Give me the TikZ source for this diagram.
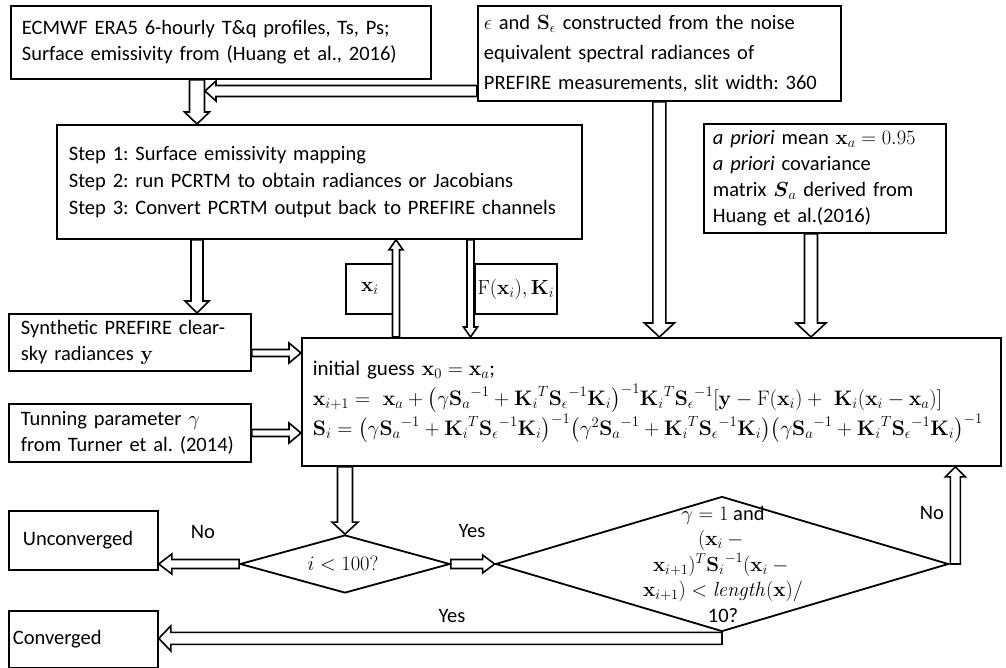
\RequirePackage{fix-cm}
\documentclass[tikz,border=0pt]{standalone}
\usepackage{amsmath}
\usepackage[no-math]{fontspec}
\setmainfont{Carlito}
\usetikzlibrary{calc,shapes.geometric}

\newcommand\mx{\mathbf{x}}
\newcommand\mS{\mathbf{S}}
\newcommand\mK{\mathbf{K}}
\newcommand\Sai{{\mS_a}^{-1}}
\newcommand\Sei{{\mS_\epsilon}^{-1}}
\newcommand\KiT{{\mK_i}^{T}}

\begin{document}
\frenchspacing
\begin{tikzpicture}[x=1pt, y=-1pt,
  every node/.style={font=\fontsize{20.5}{26}\selectfont},
  box/.style={draw, line width=1.8pt, anchor=north west, inner ysep=0pt, align=left},
  diam/.style={diamond, draw, line width=1.8pt, inner sep=0pt},
  bar/.style={draw, fill=white, line width=1.6pt, line join=miter},
  % hollow block arrow: {half shaft width}{half head width}{head length}
  barrow/.style n args={3}{to path={
    ($(\tikztotarget)!#3pt!(\tikztostart)$) coordinate (bab)
    ($(\tikztostart)!#1pt!90:(\tikztotarget)$)
    -- ($(bab)!#1pt!90:(\tikztotarget)$)
    -- ($(bab)!#2pt!90:(\tikztotarget)$)
    -- (\tikztotarget)
    -- ($(bab)!#2pt!-90:(\tikztotarget)$)
    -- ($(bab)!#1pt!-90:(\tikztotarget)$)
    -- ($(\tikztostart)!#1pt!-90:(\tikztotarget)$)
    -- cycle}},
  lbl/.style={inner sep=0pt}]
\useasboundingbox (0,0) rectangle (1006,668);

% input boxes
\node[box, minimum width=420, minimum height=73, text width=398, inner xsep=11] (src) at (10,5)
  {ECMWF ERA5 6-hourly T\&q profiles, Ts, Ps;\\Surface emissivity from (Huang et al., 2016)};
\node[box, minimum width=363, minimum height=95, text width=351, inner xsep=6,
  font=\fontsize{20.5}{30}\selectfont] (noise) at (477,5)
  {$\epsilon$ and $\mS_\epsilon$ constructed from the noise\\equivalent spectral radiances of\\PREFIRE measurements, slit width: 360};
\node[box, minimum width=525, minimum height=114, text width=501, inner xsep=12,
  font=\fontsize{20.5}{27}\selectfont] (step) at (56,124)
  {Step 1: Surface emissivity mapping\\Step 2: run PCRTM to obtain radiances or Jacobians\\Step 3: Convert PCRTM output back to PREFIRE channels};
\node[box, minimum width=242, minimum height=109, text width=224, inner xsep=9] (prior) at (703,123)
  {\textit{a priori} mean $\mx_a = 0.95$\\\textit{a priori} covariance\\matrix $\boldsymbol{S}_a$ derived from\\Huang et al.(2016)};
\node[box, minimum width=48, minimum height=50, inner xsep=0, align=center] (xi) at (345,263) {$\mx_i$};
\node[box, minimum width=82, minimum height=50, inner xsep=0, align=center] (fk) at (474,263) {$\mathrm{F}(\mx_i), \mK_i$};
\node[box, minimum width=242, minimum height=57, text width=218, inner xsep=12] (syn) at (8,313)
  {Synthetic PREFIRE clear-\\sky radiances $\mathbf{y}$};
\node[box, minimum width=242, minimum height=58, text width=218, inner xsep=12] (tun) at (8,403)
  {Tunning parameter $\gamma$\\from Turner et al. (2014)};

% retrieval step
\node[box, minimum width=699, minimum height=128, text width=677, inner xsep=11,
  font=\fontsize{21}{30}\selectfont] (eq) at (301,337)
  {initial guess $\mx_0 = \mx_a$;\\
   $\mx_{i+1} = \ \mx_a + \bigl(\gamma\Sai + \KiT\Sei\mK_i\bigr)^{-1}\KiT\Sei[\mathbf{y} - \mathrm{F}(\mx_i) +\ \mK_i(\mx_i - \mx_a)]$\\
   $\mS_i = \bigl(\gamma\Sai + \KiT\Sei\mK_i\bigr)^{-1}\bigl(\gamma^2\Sai + \KiT\Sei\mK_i\bigr)\bigl(\gamma\Sai + \KiT\Sei\mK_i\bigr)^{-1}$};

% outcomes
\node[box, minimum width=149, minimum height=59, text width=121, inner xsep=14] (unc) at (8,510) {Unconverged};
\node[box, minimum width=149, minimum height=57, text width=141, inner xsep=4] (conv) at (8,610) {Converged};

% decisions
\node[diam, minimum width=210, minimum height=58] (d1) at (345,564) {};
\node (d1t) at (343,564) {$i < 100?$};
\node[diam, minimum width=453, minimum height=135] (d2) at (722,564) {};
\node[align=center, font=\fontsize{20.5}{25.5}\selectfont] (d2t) at (723,564)
  {$\gamma = 1$ and\\$(\mx_i -{}$\\$\mx_{i+1})^T{\mS_i}^{-1}(\mx_i -{}$\\$\mx_{i+1}) < \mathit{length}(\mx)/$\\10?};

% branch labels
\node[lbl] (l1) at (203,532) {No};
\node[lbl] (l2) at (472,531) {Yes};
\node[lbl] (l3) at (452,616) {Yes};
\node[lbl] (l4) at (932,513) {No};

% arrow columns and rows
\coordinate (cA) at (197,0);
\coordinate (cB) at (396,0);
\coordinate (cC) at (470.5,0);
\coordinate (cE) at (811,0);
\coordinate (j1) at (205,91);
\coordinate (r8) at (0,353);
\coordinate (r9) at (0,433);
\coordinate (nst) at ([xshift=6pt]d2.east);
\coordinate (yst) at ([yshift=-6pt]d2.south);

% connectors
\draw[bar] (src.south -| cA) to[barrow={7.5}{12.5}{12}] (step.north -| cA);
\draw[bar] (noise.west |- j1) to[barrow={5.5}{10}{11}] (j1);
\draw[bar] (noise.south) to[barrow={6.5}{15}{14}] (eq.north -| noise.south);
\draw[bar] (prior.south -| cE) to[barrow={6.5}{15}{14}] (eq.north -| cE);
\draw[bar] (step.south -| cA) to[barrow={6}{12}{12}] (syn.north -| cA);
\draw[bar] (eq.north -| cB) to[barrow={3.5}{7}{10}] (step.south -| cB);
\draw[bar] (step.south -| cC) to[barrow={3.5}{7}{10}] (eq.north -| cC);
\draw[bar] (syn.east |- r8) to[barrow={3.5}{10}{12}] (eq.west |- r8);
\draw[bar] (tun.east |- r9) to[barrow={3.5}{10}{12}] (eq.west |- r9);
\draw[bar] (eq.south -| d1.north) to[barrow={7.5}{13}{12}] (d1.north);
\draw[bar] (d1.west) to[barrow={4.5}{10}{13}] (unc.east |- d1.west);
\draw[bar] (d1.east) to[barrow={4.5}{9}{12}] (d2.west);
\draw[bar] (nst) to[barrow={5}{10}{10}] (eq.south -| nst);
\draw[bar] (yst) to[barrow={6}{12.5}{12}] (conv.east |- yst);
\end{tikzpicture}
\end{document}
